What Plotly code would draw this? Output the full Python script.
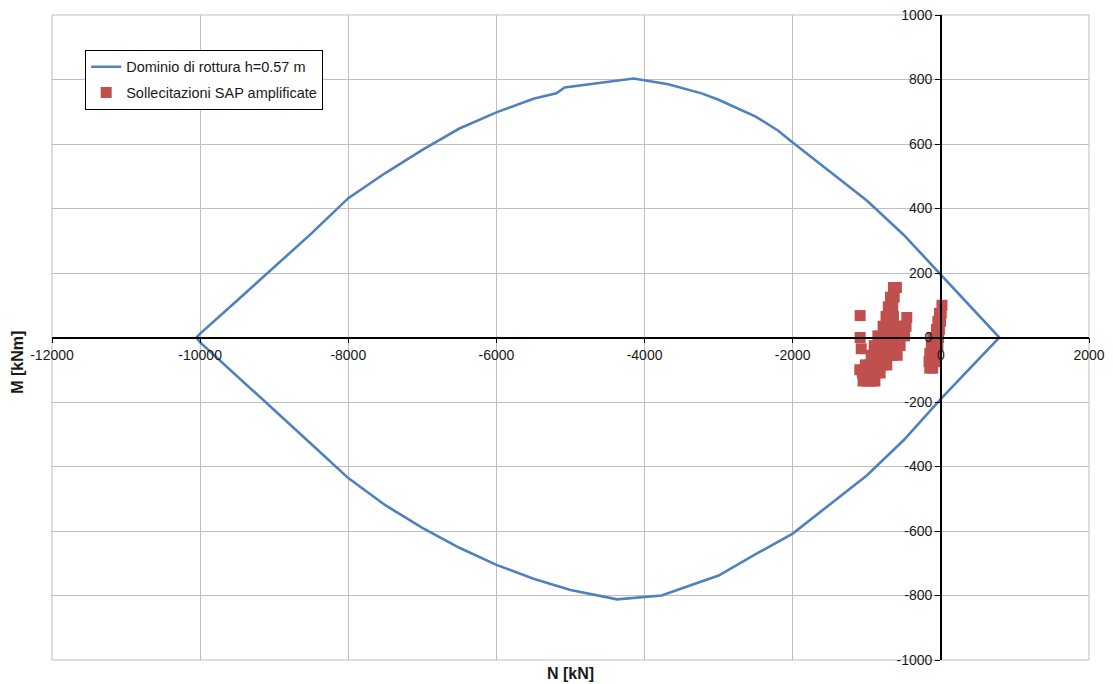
import plotly.graph_objects as go

# Interaction domain (N-M) of the section, h = 0.57 m
dom_upper_N = [-10050, -10000, -9500, -9000, -8500, -8000, -7500, -7000, -6500, -6000,
               -5500, -5190, -5080, -4150, -3680, -3230, -3000, -2500, -2200, -2000,
               -1500, -1000, -500, 0, 600, 790]
dom_upper_M = [0, 12, 115, 218, 322, 432, 510, 582, 648, 698,
               740, 757, 775, 803, 785, 757, 737, 685, 642, 605,
               515, 425, 318, 195, 46, 0]
dom_lower_N = [790, 0, -500, -1000, -1500, -2000, -2500, -3000, -3300,
               -3770, -4370, -5000, -5500, -6000, -6500, -7000, -7500, -8000,
               -8500, -9000, -9500, -10000, -10050]
dom_lower_M = [0, -190, -318, -428, -517, -608, -672, -738, -762,
               -800, -812, -783, -748, -705, -652, -590, -520, -436,
               -330, -225, -120, -15, 0]

# Amplified SAP internal forces (N, M)
sap_N = [-640, -600,
         -680, -630,
         -710, -650,
         -740, -680, -640, -460,
         -780, -720, -660, -600, -530, -470,
         -850, -780, -720, -660, -600, -540, -490,
         -900, -840, -780, -720, -660, -600, -550,
         -940, -880, -820, -760, -700, -640, -590,
         -1020, -960, -900, -840, -780, -730,
         -1060, -1000, -940, -880, -820,
         -1050, -990, -930, -890,
         -1090, -1090, -1075, -1095,
         15, 5, -20, -5, -40, -20, -60, -30, -75, -110,
         -40, -90, -130, -60, -110, -150, -80, -130, -160, -110, -150]
sap_M = [155, 155,
         125, 125,
         95, 95,
         65, 65, 65, 62,
         35, 35, 35, 35, 35, 35,
         5, 5, 5, 5, 5, 5, 5,
         -25, -25, -25, -25, -25, -25, -25,
         -55, -55, -55, -55, -55, -55, -55,
         -85, -85, -85, -85, -85, -85,
         -110, -110, -110, -110, -110,
         -135, -135, -135, -135,
         68, 0, -35, -100,
         100, 75, 75, 50, 50, 25, 25, 0, 0, 0,
         -25, -25, -25, -50, -50, -50, -75, -75, -75, -95, -95]

x_ticks = [-12000, -10000, -8000, -6000, -4000, -2000, 0, 2000]
y_ticks = [-1000, -800, -600, -400, -200, 0, 200, 400, 600, 800, 1000]

x_range = [-12000, 2000]
y_range = [-1000, 1000]

BLUE = "#4F81BD"
RED = "#C0504D"
GRID = "#BFBFBF"
FONT = "Liberation Sans"
TEXT = "#1a1a1a"

fig = go.Figure()

fig.add_trace(go.Scatter(
    x=dom_upper_N + dom_lower_N[1:],
    y=dom_upper_M + dom_lower_M[1:],
    mode="lines",
    line=dict(color=BLUE, width=2.6),
    name="Dominio di rottura h=0.57 m",
    legendgroup="a",
))

fig.add_trace(go.Scatter(
    x=sap_N, y=sap_M,
    mode="markers",
    marker=dict(symbol="square", size=11, color=RED),
    name="Sollecitazioni SAP amplificate",
    legendgroup="b",
))

# axes cross at the origin, as in a spreadsheet chart
x_pos = (0 - y_range[0]) / (y_range[1] - y_range[0])
y_pos = (0 - x_range[0]) / (x_range[1] - x_range[0])

fig.update_layout(
    width=1113, height=684,
    margin=dict(l=52, r=24, t=15, b=24),
    paper_bgcolor="white",
    plot_bgcolor="white",
    font=dict(family=FONT, size=14, color=TEXT),
    showlegend=True,
    legend=dict(
        x=0.032, y=0.946, xanchor="left", yanchor="top",
        bgcolor="white", bordercolor="#000000", borderwidth=1,
        font=dict(family=FONT, size=14.5, color=TEXT),
        tracegroupgap=4, traceorder="grouped",
    ),
    xaxis=dict(
        range=x_range, tickvals=x_ticks, ticktext=[str(v) for v in x_ticks],
        showgrid=True, gridcolor=GRID, gridwidth=1,
        zeroline=False, showline=True, linecolor="#000000", linewidth=1.5,
        ticks="outside", ticklen=5, tickcolor="#000000",
        anchor="free", position=x_pos, automargin=False,
        tickfont=dict(family=FONT, size=14, color=TEXT),
    ),
    yaxis=dict(
        range=y_range, tickvals=y_ticks, ticktext=[str(v) for v in y_ticks],
        showgrid=True, gridcolor=GRID, gridwidth=1,
        zeroline=False, showline=True, linecolor="#000000", linewidth=1.5,
        ticks="outside", ticklen=5, tickcolor="#000000",
        anchor="free", position=y_pos, automargin=False,
        tickfont=dict(family=FONT, size=14, color=TEXT),
    ),
    shapes=[dict(type="rect", xref="paper", yref="paper", x0=0, y0=0, x1=1, y1=1,
                 line=dict(color=GRID, width=1), layer="below")],
    annotations=[
        dict(text="<b>N [kN]</b>", xref="paper", yref="paper", x=0.5, y=-0.0202,
             xanchor="center", yanchor="middle", showarrow=False,
             font=dict(family=FONT, size=16, color=TEXT)),
        dict(text="<b>M [kNm]</b>", xref="paper", yref="paper", x=-0.034, y=0.462,
             xanchor="center", yanchor="middle", showarrow=False, textangle=-90,
             font=dict(family=FONT, size=16, color=TEXT)),
    ],
)

fig.write_html("out.html")
